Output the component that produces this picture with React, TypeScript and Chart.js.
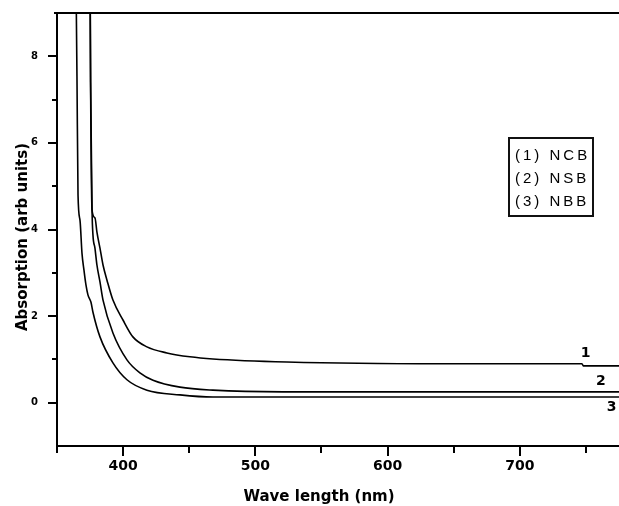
import React, { useEffect, useRef } from "react";
import { Chart, registerables } from "chart.js";

Chart.register(...registerables);

// Series names (legend)
const seriesNames = ["(1) NCB", "(2) NSB", "(3) NBB"];
const curveTags = ["1", "2", "3"];

// Curve 1 (NCB)
const x1 = [375.0, 375.4, 376.5, 378.7, 380.2, 382.5, 384.8, 387.8, 392.3, 399.9, 407.4, 418.0, 433.1, 450.5, 467.9, 523.8, 640, 747, 748, 775];
const y1 = [10, 7.4, 4.45, 4.27, 3.94, 3.57, 3.18, 2.83, 2.37, 1.91, 1.52, 1.29, 1.15, 1.06, 1.01, 0.94, 0.9, 0.9, 0.85, 0.85];

// Curve 2 (NSB)
const x2 = [375.0, 375.4, 376.5, 377.2, 378.7, 380.2, 382.5, 384.8, 392.3, 402.9, 412.7, 422.6, 443.0, 467.9, 520.8, 775];
const y2 = [10, 7.4, 4.45, 3.87, 3.57, 3.18, 2.79, 2.37, 1.61, 0.99, 0.69, 0.52, 0.36, 0.29, 0.25, 0.25];

// Curve 3 (NBB)
const x3 = [364.3, 365.1, 365.9, 367.4, 368.9, 370.4, 371.9, 373.4, 375.7, 377.2, 382.5, 392.3, 402.9, 418.0, 443.0, 467.9, 775];
const y3 = [10, 7.54, 4.79, 4.21, 3.45, 3.06, 2.72, 2.49, 2.32, 2.09, 1.52, 0.92, 0.53, 0.29, 0.18, 0.13, 0.13];

// Axis ranges and ticks
const X_MIN = 350;
const X_MAX = 775;
const X_STEP = 50;
const Y_MIN = -1;
const Y_MAX = 9;
const Y_STEP = 1;

// Curve tag anchors (data space)
const tagX = [749.8, 761.2, 769.5];
const tagY = [1.15, 0.5, -0.1];

const X_TITLE = "Wave length (nm)";
const Y_TITLE = "Absorption (arb units)";

const toPts = (xs: number[], ys: number[]) => xs.map((x, i) => ({ x, y: ys[i] }));

const decorPlugin = {
  id: "decor",
  afterDraw(chart: any) {
    const { ctx, chartArea, scales } = chart;
    const xs = scales.x;
    const ys = scales.y;
    ctx.save();
    ctx.strokeStyle = "#000";
    ctx.fillStyle = "#000";
    ctx.lineWidth = 2;
    // top frame line
    ctx.beginPath();
    ctx.moveTo(chartArea.left - 3, chartArea.top);
    ctx.lineTo(chartArea.right, chartArea.top);
    ctx.stroke();
    // y ticks
    for (let v = Y_MIN + 1; v < Y_MAX; v += Y_STEP) {
      const py = Math.round(ys.getPixelForValue(v));
      const len = v % 2 === 0 ? 9 : 5;
      ctx.beginPath();
      ctx.moveTo(chartArea.left - len, py);
      ctx.lineTo(chartArea.left, py);
      ctx.stroke();
    }
    // x ticks
    for (let v = X_MIN; v <= X_MAX; v += X_STEP) {
      const px = Math.round(xs.getPixelForValue(v));
      const len = v % 100 === 0 ? 10 : 7;
      ctx.beginPath();
      ctx.moveTo(px, chartArea.bottom);
      ctx.lineTo(px, chartArea.bottom + len);
      ctx.stroke();
    }
    // titles
    ctx.textAlign = "center";
    ctx.textBaseline = "middle";
    ctx.font = "bold 15px 'DejaVu Sans'";
    ctx.fillText(X_TITLE, 319, 497);
    ctx.save();
    ctx.translate(23, 237);
    ctx.rotate(-Math.PI / 2);
    ctx.font = "bold 15px 'DejaVu Sans'";
    ctx.fillText(Y_TITLE, 0, 0);
    ctx.restore();
    // curve tags
    ctx.font = "bold 14px 'DejaVu Sans'";
    curveTags.forEach((t, i) => {
      ctx.fillText(t, xs.getPixelForValue(tagX[i]), ys.getPixelForValue(tagY[i]));
    });
    // legend box
    ctx.fillStyle = "#fff";
    ctx.fillRect(509, 138, 84, 78);
    ctx.strokeStyle = "#111";
    ctx.lineWidth = 2;
    ctx.strokeRect(509, 138, 84, 78);
    ctx.fillStyle = "#000";
    ctx.textAlign = "left";
    ctx.font = "15px 'Liberation Sans'";
    try { (ctx as any).letterSpacing = "3px"; } catch (e) {}
    const lineYs = [156, 179, 202];
    seriesNames.forEach((n, i) => ctx.fillText(n, 515, lineYs[i]));
    ctx.restore();
  },
};

export default function App() {
  const ref = useRef<HTMLCanvasElement | null>(null);
  useEffect(() => {
    if (!ref.current) return;
    const mk = (xs: number[], ys: number[], label: string) => ({
      label,
      data: toPts(xs, ys),
      showLine: true,
      pointRadius: 0,
      borderColor: "#000",
      backgroundColor: "#000",
      borderWidth: 1.6,
      cubicInterpolationMode: "monotone" as const,
    });
    const chart = new Chart(ref.current, {
      type: "scatter",
      data: {
        datasets: [
          mk(x1, y1, seriesNames[0]),
          mk(x2, y2, seriesNames[1]),
          mk(x3, y3, seriesNames[2]),
        ],
      },
      options: {
        animation: false,
        responsive: false,
        layout: { padding: { top: 13, right: 0, left: 0, bottom: 0 } },
        plugins: { legend: { display: false }, tooltip: { enabled: false } },
        scales: {
          x: {
            type: "linear",
            min: X_MIN,
            max: X_MAX,
            ticks: {
              stepSize: X_STEP,
              autoSkip: false,
              maxRotation: 0,
              padding: 12,
              color: "#000",
              font: { family: "'DejaVu Sans'", weight: "bold", size: 14 },
              callback: (v: any) => (Number(v) % 100 === 0 ? String(v) : ""),
            },
            grid: { drawOnChartArea: false, drawTicks: false },
            border: { display: true, color: "#000", width: 2 },
            afterFit: (s: any) => {
              s.height = 60;
              s.paddingLeft = 0;
              s.paddingRight = 0;
            },
          },
          y: {
            type: "linear",
            min: Y_MIN,
            max: Y_MAX,
            ticks: {
              stepSize: Y_STEP,
              autoSkip: false,
              padding: 19,
              color: "#000",
              font: { family: "'DejaVu Sans'", weight: "bold", size: 10 },
              callback: (v: any) => {
                const n = Number(v);
                return n >= 0 && n <= 8 && n % 2 === 0 ? String(n) : "";
              },
            },
            grid: { drawOnChartArea: false, drawTicks: false },
            border: { display: true, color: "#000", width: 2 },
            afterFit: (s: any) => {
              s.width = 57;
              s.paddingTop = 0;
              s.paddingBottom = 0;
            },
          },
        },
      },
      plugins: [decorPlugin],
    });
    return () => chart.destroy();
  }, []);
  return (
    <div style={{ position: "fixed", left: 0, top: 0, width: 619, height: 506, background: "#fff" }}>
      <canvas ref={ref} width={619} height={506} style={{ display: "block" }} />
    </div>
  );
}
